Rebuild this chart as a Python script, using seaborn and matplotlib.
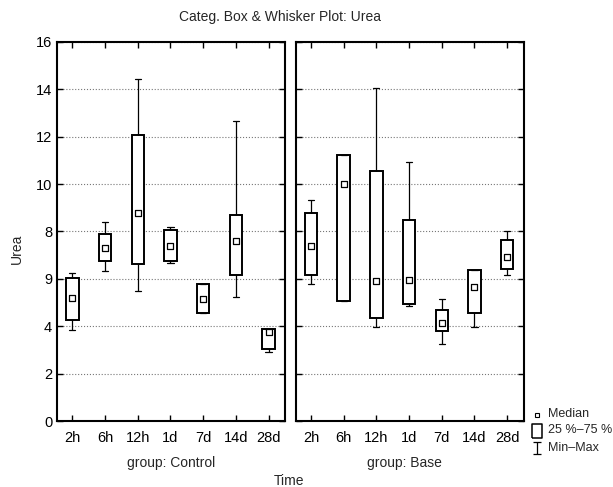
import pandas as pd
import matplotlib
matplotlib.use('Agg')
import matplotlib.pyplot as plt
import seaborn as sns
from matplotlib.lines import Line2D
from matplotlib.path import Path

# Datos (min, Q1, mediana, Q3, max)
tiempos = ['2h', '6h', '12h', '1d', '7d', '14d', '28d']

ctrl_min = [3.84, 6.34, 5.49, 6.68, 4.54, 5.25, 2.90]
ctrl_q1 = [4.26, 6.75, 6.61, 6.76, 4.54, 6.16, 3.04]
ctrl_med = [5.18, 7.29, 8.76, 7.38, 5.15, 7.58, 3.75]
ctrl_q3 = [6.02, 7.88, 12.05, 8.06, 5.79, 8.70, 3.88]
ctrl_max = [6.26, 8.38, 14.44, 8.17, 5.79, 12.67, 3.90]

base_min = [5.77, 5.06, 3.95, 4.85, 3.25, 3.95, 6.16]
base_q1 = [6.16, 5.06, 4.36, 4.94, 3.81, 4.56, 6.40]
base_med = [7.38, 10.01, 5.92, 5.96, 4.14, 5.67, 6.93]
base_q3 = [8.76, 11.21, 10.56, 8.47, 4.67, 6.36, 7.62]
base_max = [9.31, 11.21, 14.05, 10.91, 5.16, 6.36, 8.02]

etiquetas_y = ['0', '2', '4', '9', '8', '10', '12', '14', '16']
leyenda = ['Median', '25 %–75 %', 'Min–Max']

grupos = {
    'Control': (ctrl_min, ctrl_q1, ctrl_med, ctrl_q3, ctrl_max),
    'Base': (base_min, base_q1, base_med, base_q3, base_max),
}

# Cinco puntos por caja: con whis=(0,100) los cuartiles salen exactos
filas = []
for g, stats in grupos.items():
    for i, t in enumerate(tiempos):
        for s in stats:
            filas.append({'grupo': g, 'Time': t, 'Urea': s[i]})
datos = pd.DataFrame(filas)

medianas = pd.DataFrame({
    'grupo': ['Control'] * 7 + ['Base'] * 7,
    'Time': tiempos * 2,
    'Urea': ctrl_med + base_med,
})

sns.set_theme(style="ticks")
plt.rcParams['font.family'] = ['Liberation Sans', 'DejaVu Sans']

fig, axes = plt.subplots(1, 2, figsize=(6.13, 4.87), dpi=100, sharey=True)
fig.subplots_adjust(left=0.093, right=0.854, bottom=0.1355, top=0.914, wspace=0.047)

for ax, g in zip(axes, ['Control', 'Base']):
    sns.boxplot(
        data=datos[datos.grupo == g], x='Time', y='Urea', order=tiempos,
        whis=(0, 100), width=0.38, color='white', linecolor='black',
        linewidth=1.4, fliersize=0,
        medianprops={'visible': False},
        whiskerprops={'linewidth': 0.9},
        capprops={'linewidth': 0.9},
        ax=ax,
    )
    sns.stripplot(
        data=medianas[medianas.grupo == g], x='Time', y='Urea', order=tiempos,
        jitter=False, marker='s', size=4.5, color='white',
        edgecolor='black', linewidth=0.9, zorder=5, ax=ax,
    )
    ax.set_xlim(-0.47, 6.5)
    ax.set_ylim(0, 16)
    ax.set_yticks(range(0, 17, 2))
    ax.yaxis.grid(True, linestyle=':', color='#777777', linewidth=0.8)
    ax.set_axisbelow(True)
    for sp in ax.spines.values():
        sp.set_visible(True)
        sp.set_linewidth(1.5)
        sp.set_color('black')
    ax.tick_params(direction='in', top=True, right=True, left=True,
                   length=4, width=1, labelsize=10.5, colors='black')
    ax.tick_params(axis='x', pad=7)
    ax.set_xlabel('')
    ax.set_ylabel('')

axes[0].set_yticklabels(etiquetas_y)
axes[1].tick_params(labelleft=False)

fig.text(0.457, 0.965, 'Categ. Box & Whisker Plot: Urea', ha='center', va='center', fontsize=10)
fig.text(0.279, 0.049, 'group: Control', ha='center', va='center', fontsize=10)
fig.text(0.66, 0.049, 'group: Base', ha='center', va='center', fontsize=10)
fig.text(0.472, 0.012, 'Time', ha='center', va='center', fontsize=10)
fig.text(0.028, 0.49, 'Urea', ha='center', va='center', rotation=90, fontsize=10)

# Leyenda a mano (a la derecha, abajo)
caja = [(-0.37, -0.5), (0.37, -0.5), (0.37, 0.5), (-0.37, 0.5), (-0.37, -0.5)]
barra = Path([(-0.28, -0.5), (0.28, -0.5), (0, -0.5), (0, 0.5), (-0.28, 0.5), (0.28, 0.5)],
             [Path.MOVETO, Path.LINETO, Path.MOVETO, Path.LINETO, Path.MOVETO, Path.LINETO])
marcas = [
    dict(marker='s', markersize=3.2, markeredgewidth=0.8, markerfacecolor='white'),
    dict(marker=caja, markersize=9.7, markeredgewidth=1.1, markerfacecolor='white'),
    dict(marker=barra, markersize=9, markeredgewidth=0.9, markerfacecolor='none'),
]
ys_icono = [415, 431, 448]
ys_texto = [414, 430, 448]
for etiqueta, m, yi, yt in zip(leyenda, marcas, ys_icono, ys_texto):
    fig.add_artist(Line2D([537 / 613], [1 - yi / 487], transform=fig.transFigure,
                          linestyle='none', markeredgecolor='black', **m))
    fig.text(548 / 613, 1 - yt / 487, etiqueta, ha='left', va='center', fontsize=9)

plt.savefig('out.png', dpi=100)
